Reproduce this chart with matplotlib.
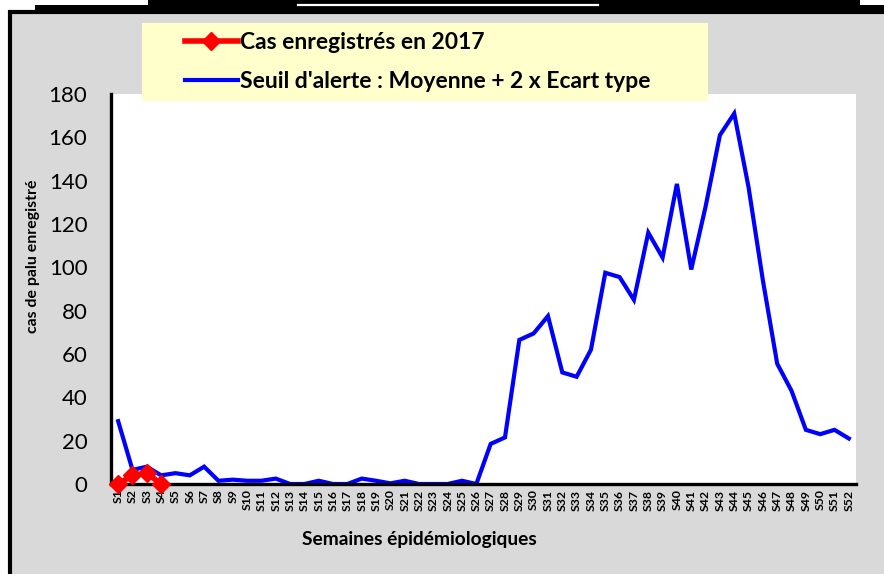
import matplotlib
matplotlib.use("Agg")
import matplotlib.pyplot as plt
from matplotlib.patches import Rectangle
from matplotlib.lines import Line2D
import numpy as np

plt.rcParams['font.family'] = ['Lato', 'DejaVu Sans']

# data
semaines = ["S%d" % i for i in range(1, 53)]
seuil = [29, 6.5, 8, 4, 5, 4, 8, 1.5, 2, 1.5,
         1.5, 2.5, 0, 0, 1.5, 0, 0, 2.5, 1.5, 0.3,
         1.5, 0, 0, 0, 1.5, 0,
         18.5, 21.5, 66.5, 69.5, 77.5, 51.5, 49.5, 62, 97.5, 95.5,
         85, 116, 104.5, 138.5, 99, 128, 161, 171, 137, 94,
         55.5, 43, 25, 23, 25, 21]
cas_2017 = [0, 4, 5, 0]
yticks = list(range(0, 181, 20))

W, H = 884, 574
fig = plt.figure(figsize=(W / 100, H / 100), dpi=100, facecolor='white')

def fx(px):
    return px / W

def fy(py):
    return 1 - py / H

def rect(x0, y0, x1, y1, **kw):
    r = Rectangle((fx(x0), fy(y1)), fx(x1) - fx(x0), fy(y0) - fy(y1),
                  transform=fig.transFigure, **kw)
    fig.add_artist(r)
    return r

# outer frame + cut title band
rect(10, 12, 900, 590, facecolor='#d9d9d9', edgecolor='black', linewidth=3, zorder=-2)
rect(35, 5, 884, 12, facecolor='black', edgecolor='none', zorder=-1)
rect(148, 0, 860, 5, facecolor='black', edgecolor='none', zorder=-1)
fig.add_artist(Line2D([fx(298), fx(598)], [fy(5), fy(5)], color='white', lw=1.6,
                      transform=fig.transFigure, zorder=-1))

ax = fig.add_axes([fx(111), fy(484), fx(856) - fx(111), fy(94) - fy(484)])
ax.set_facecolor('white')

x = np.arange(1, len(semaines) + 1)
ax.plot(x, seuil, color='#0000ff', lw=3, solid_joinstyle='miter', zorder=3,
        label="Seuil d'alerte : Moyenne + 2 x Ecart type")
ax.plot(x[:len(cas_2017)], cas_2017, color='#ff0000', lw=4, marker='D', markersize=9,
        clip_on=False, zorder=4, label='Cas enregistrés en 2017')

ax.set_xlim(0.5, 52.5)
ax.set_ylim(0, 180)
ax.set_yticks(yticks)
ax.set_xticks(x)
ax.set_xticklabels(semaines, rotation=90, fontsize=8.8, fontweight='bold')
ax.tick_params(axis='y', length=0, pad=17, labelsize=16)
ax.tick_params(axis='x', length=0, pad=4)

for s in ['top', 'right']:
    ax.spines[s].set_visible(False)
for s in ['left', 'bottom']:
    ax.spines[s].set_linewidth(2.4)
    ax.spines[s].set_color('black')
    ax.spines[s].set_zorder(3.5)

fig.text(fx(419), fy(540), 'Semaines épidémiologiques', ha='center', va='center',
         fontsize=13.8, fontweight='bold')
fig.text(fx(33), fy(256), 'cas de palu enregistré', ha='center', va='center',
         rotation=90, fontsize=11.4, fontweight='bold')

# legend box
rect(142, 23, 708, 101, facecolor='#ffffcc', edgecolor='none', zorder=2)
h, l = ax.get_legend_handles_labels()
leg = fig.legend(h[::-1], l[::-1], loc='center left',
                 bbox_to_anchor=(fx(185), fy(62)), borderaxespad=0, borderpad=0,
                 frameon=False, handlelength=2.3, handletextpad=0.12,
                 labelspacing=0.75, prop={'size': 16.5, 'weight': 'bold'})
leg.set_zorder(5)

fig.savefig('out.png', dpi=100, facecolor='white')
